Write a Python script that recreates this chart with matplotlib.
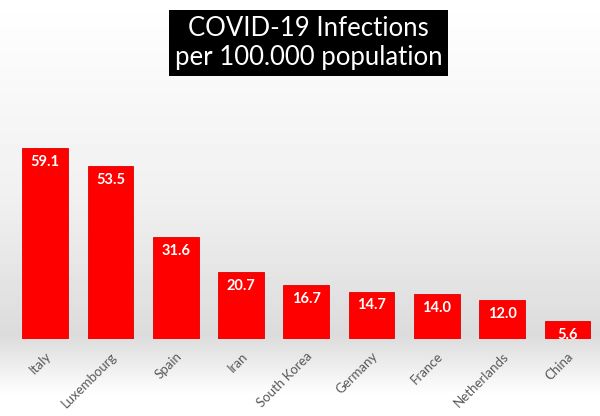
import matplotlib
matplotlib.use("Agg")
import matplotlib.pyplot as plt
import numpy as np

countries = ["Italy", "Luxembourg", "Spain", "Iran", "South Korea", "Germany",
             "France", "Netherlands", "China"]
values = [59.1, 53.5, 31.6, 20.7, 16.7, 14.7, 14.0, 12.0, 5.6]
title_text = "COVID-19 Infections\nper 100.000 population"

fig = plt.figure(figsize=(6, 4.16), dpi=100)

# background gradient
bg = fig.add_axes([0, 0, 1, 1], zorder=0)
h = 416
val = np.ones(h)
for i in range(h):
    py = i
    if py < 200:
        v = 1.0 - 0.06 * (py / 200)
    elif py < 335:
        v = 0.94 - 0.08 * ((py - 200) / 135)
    else:
        v = 0.86 + 0.14 * min(1, (py - 335) / 60)
    val[i] = v
img = np.tile(val[:, None], (1, 10))
bg.imshow(img, cmap="gray", vmin=0, vmax=1, aspect="auto", extent=[0, 1, 0, 1])
bg.set_axis_off()

ax = fig.add_axes([0.021, 0.185, 0.979, 0.505], zorder=1)
ax.patch.set_alpha(0)
x = np.arange(len(countries))
ax.bar(x, values, width=0.7, color="#ff0000", edgecolor="#e00000", linewidth=0.6, zorder=2)
ax.set_xlim(-0.5, len(countries) - 0.5)
ax.set_ylim(0, 65)
for xi, v in zip(x, values):
    ax.text(xi, v - 4.3, f"{v:.1f}", ha="center", va="center", color="white",
            fontsize=10.5, fontweight="bold", family="Lato", zorder=3)
ax.set_xticks(x)
ax.set_xticklabels(countries, rotation=45, ha="right", rotation_mode="anchor",
                   color="#595959", fontsize=9.5, family="Lato")
ax.tick_params(axis="x", length=0, pad=8)
ax.set_yticks([])
for s in ax.spines.values():
    s.set_visible(False)

fig.text(0.514, 0.897, title_text, ha="center", va="center", color="white",
         fontsize=18.5, family="Lato", linespacing=1.2,
         bbox=dict(boxstyle="square,pad=0.22", facecolor="black", edgecolor="none"),
         zorder=5)

fig.savefig("out.png", dpi=100)
